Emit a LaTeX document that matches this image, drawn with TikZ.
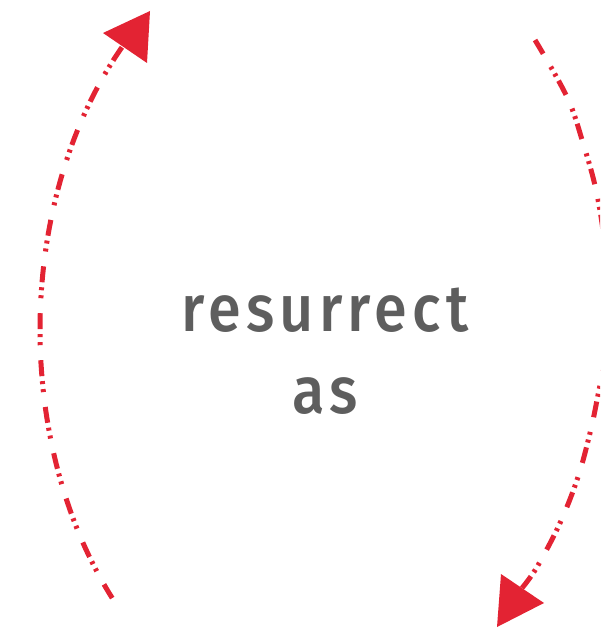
\documentclass[tikz,border=0pt]{standalone}
\usepackage{fontspec}
\setmainfont{Fira Sans}
\newfontfamily\dinlike{Fira Sans Medium}[LetterSpace=8, FakeStretch=0.9]
\definecolor{arcred}{HTML}{E32333}
\definecolor{txtgray}{HTML}{5E5E5E}
\begin{document}
\begin{tikzpicture}[x=0.5pt,y=-0.5pt,
  arcline/.style={draw=arcred, line width=2.5pt,
    dash pattern=on 8pt off 7.5pt on 1.5pt off 2.5pt on 1.5pt off 2.5pt},
  tiphead/.style={fill=arcred, draw=none},
  word/.style={text=txtgray, font=\dinlike\fontsize{33}{33}\selectfont, anchor=base, inner sep=0pt}]
\useasboundingbox (0,0) rectangle (600,630);
\clip (0,0) rectangle (600,630);
% left arc
\draw[arcline] plot[domain=221.7:135.1, samples=90, variable=\t] ({325+285*cos(\t)}, {330-403*sin(\t)});
\fill[tiphead] (103,33) -- (150,11) -- (147,63) -- cycle;
% right arc
\draw[arcline] plot[smooth, tension=0.6] coordinates {(535,40) (567,97) (583,143) (596,190) (604,240) (607,300) (604,360) (597,400) (590,433) (578,477) (560,523) (537,567) (522,588)};
\fill[tiphead] (501,574) -- (544,603) -- (497,627) -- cycle;
% text
\node[word] (w1) at (325,331) {resurrect};
\node[word] (w2) at (325,413) {as};
\end{tikzpicture}
\end{document}
